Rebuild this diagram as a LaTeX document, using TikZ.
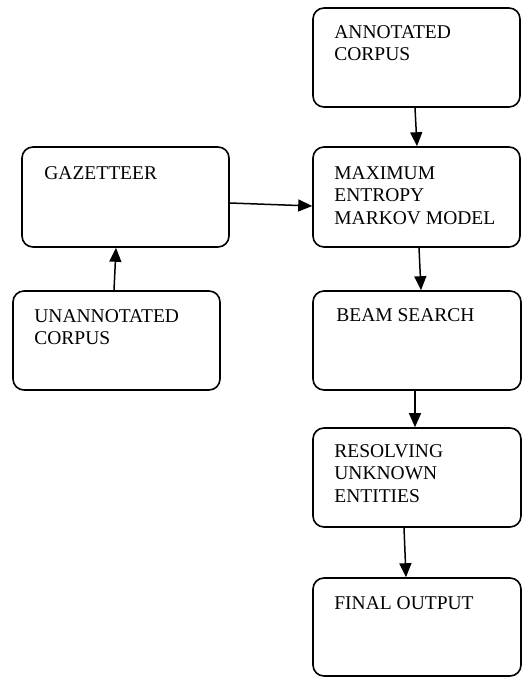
\documentclass[tikz,border=0pt]{standalone}
\usepackage{fontspec}
\setmainfont{Liberation Serif}
\usetikzlibrary{arrows.meta}
\begin{document}
\begin{tikzpicture}[x=1pt,y=-1pt,
  box/.style={draw,line width=1.6pt,rounded corners=11pt,minimum width=207pt,minimum height=99pt,inner sep=0pt},
  txt/.style={anchor=north west,inner sep=0pt,align=left,font=\fontsize{19.5}{22.5}\selectfont},
  arr/.style={line width=1.5pt,-{Triangle[width=12pt,length=14pt]}}]
\useasboundingbox (0,0) rectangle (522,677);
\node[box] (ac) at (416.5,57.5) {};
\node[box,minimum height=100pt] (memm) at (416.5,197) {};
\node[box,minimum height=100pt] (gaz) at (125.5,197) {};
\node[box] (un) at (116.5,340.5) {};
\node[box,minimum width=208pt] (beam) at (417,340.5) {};
\node[box,minimum width=208pt] (res) at (417,477.5) {};
\node[box,minimum width=208pt,minimum height=98pt] (fin) at (417,627) {};
\node[txt] (acT) at ([shift={(22pt,-18pt)}]ac.north west) {ANNOTATED\\CORPUS};
\node[txt] (memmT) at ([shift={(22pt,-20pt)}]memm.north west) {MAXIMUM\\ENTROPY\\MARKOV MODEL};
\node[txt] (gazT) at ([shift={(23pt,-20pt)}]gaz.north west) {GAZETTEER};
\node[txt] (unT) at ([shift={(22pt,-19pt)}]un.north west) {UNANNOTATED\\CORPUS};
\node[txt] (beamT) at ([shift={(24pt,-18pt)}]beam.north west) {BEAM SEARCH};
\node[txt] (resT) at ([shift={(22pt,-17pt)}]res.north west) {RESOLVING\\UNKNOWN\\ENTITIES};
\node[txt] (finT) at ([shift={(22pt,-19pt)}]fin.north west) {FINAL OUTPUT};
\draw[arr] ([xshift=-1.5pt]ac.south) -- ([xshift=0.5pt]memm.north);
\draw[arr] ([xshift=2.5pt]memm.south) -- ([xshift=4pt]beam.north);
\draw[arr] ([xshift=-2pt]beam.south) -- ([xshift=-2pt]res.north);
\draw[arr] ([xshift=-13pt]res.south) -- ([xshift=-11pt]fin.north);
\draw[arr] ([xshift=-2.5pt]un.north) -- ([xshift=-9.5pt]gaz.south);
\draw[arr] ([yshift=-6pt]gaz.east) -- ([yshift=-9pt]memm.west);
\end{tikzpicture}
\end{document}
